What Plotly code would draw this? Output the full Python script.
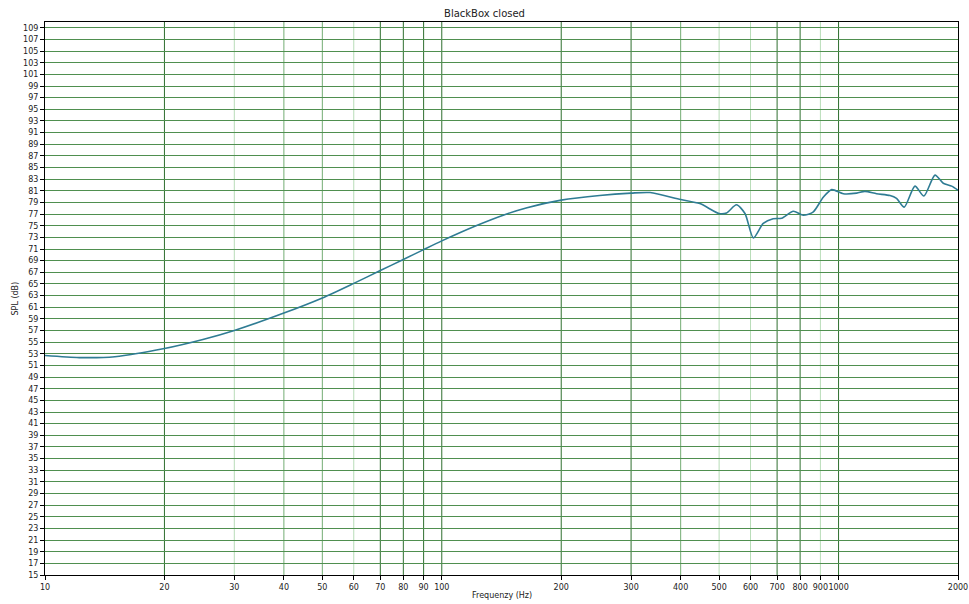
import math
import plotly.graph_objects as go

# Measured frequency response of the closed box
freq_hz = [10, 12.2, 15, 20, 25, 30, 40, 50, 60, 70, 80, 90, 100, 122, 144, 164,
           200, 250, 300, 335, 400, 447, 500, 522, 553, 581, 610, 646, 684, 719,
           769, 815, 864, 915, 961, 1028, 1111, 1165, 1247, 1348, 1400, 1464,
           1558, 1641, 1750, 1836, 1928, 2000]
spl_db = [52.7, 52.35, 52.5, 53.9, 55.45, 57.0, 60.0, 62.6, 65.1, 67.3, 69.2, 70.9,
          72.4, 75.0, 76.9, 78.1, 79.4, 80.2, 80.6, 80.7, 79.5, 78.8, 77.1, 77.2,
          78.6, 77.1, 72.9, 75.4, 76.2, 76.3, 77.5, 76.8, 77.4, 79.9, 81.2, 80.5,
          80.6, 80.9, 80.5, 80.2, 79.7, 78.2, 81.8, 80.1, 83.7, 82.3, 81.8, 81.1]

x_ticks = [10, 20, 30, 40, 50, 60, 70, 80, 90, 100, 200, 300, 400, 500, 600,
           700, 800, 900, 1000, 2000]
y_ticks = list(range(15, 110, 2))

grid_dark = [20, 70, 80, 90, 100, 200, 300, 700, 800, 1000]
grid_mid = [40, 50, 400]
grid_light = [30, 60, 500, 600, 900]

FONT = "DejaVu Sans"

fig = go.Figure()
fig.add_trace(go.Scatter(
    x=freq_hz, y=spl_db, mode="lines",
    line=dict(color="#2f7c94", width=1.6, shape="spline", smoothing=0.7),
    hoverinfo="x+y", showlegend=False,
))

shapes = []
for vals, col in ((grid_light, "#b8ddb8"), (grid_mid, "#74ad74"), (grid_dark, "#2f6f2f")):
    for v in vals:
        shapes.append(dict(type="line", xref="x", yref="paper", x0=v, x1=v, y0=0, y1=1,
                           line=dict(color=col, width=1), layer="below"))

fig.update_layout(
    width=969, height=604,
    margin=dict(l=45, r=11, t=22, b=29, autoexpand=False),
    paper_bgcolor="white", plot_bgcolor="white",
    font=dict(family=FONT, size=8, color="#222222"),
    title=dict(text="BlackBox closed", x=0.5, xanchor="center", y=1 - 13 / 604,
               yanchor="middle", font=dict(family=FONT, size=10, color="#222222")),
    shapes=shapes,
    annotations=[
        dict(text="Frequenzy (Hz)", xref="paper", yref="paper", x=0.5, y=0,
             yshift=-20, yanchor="middle", showarrow=False,
             font=dict(family=FONT, size=8, color="#222222")),
        dict(text="SPL (dB)", xref="paper", yref="paper", x=0, y=0.5,
             xshift=-30, xanchor="center", textangle=-90, showarrow=False,
             font=dict(family=FONT, size=8, color="#222222")),
    ],
)

fig.update_xaxes(
    type="log", range=[1, math.log10(2000) + 1e-6],
    tickmode="array", tickvals=x_ticks, ticktext=[str(v) for v in x_ticks],
    tickangle=0, automargin=False, ticklabeloverflow="allow",
    showgrid=False, zeroline=False,
    ticks="outside", ticklen=4, tickcolor="black", tickwidth=1,
    showline=True, linecolor="black", linewidth=1, mirror=True,
    tickfont=dict(family=FONT, size=8, color="#222222"),
)
fig.update_yaxes(
    range=[15, 110], automargin=False,
    tickmode="array", tickvals=y_ticks,
    showgrid=True, gridcolor="#4f8f4f", gridwidth=1, zeroline=False,
    ticks="outside", ticklen=4, tickcolor="black", tickwidth=1,
    showline=True, linecolor="black", linewidth=1, mirror=True,
    tickfont=dict(family=FONT, size=8, color="#222222"),
)

fig.write_html("out.html")
